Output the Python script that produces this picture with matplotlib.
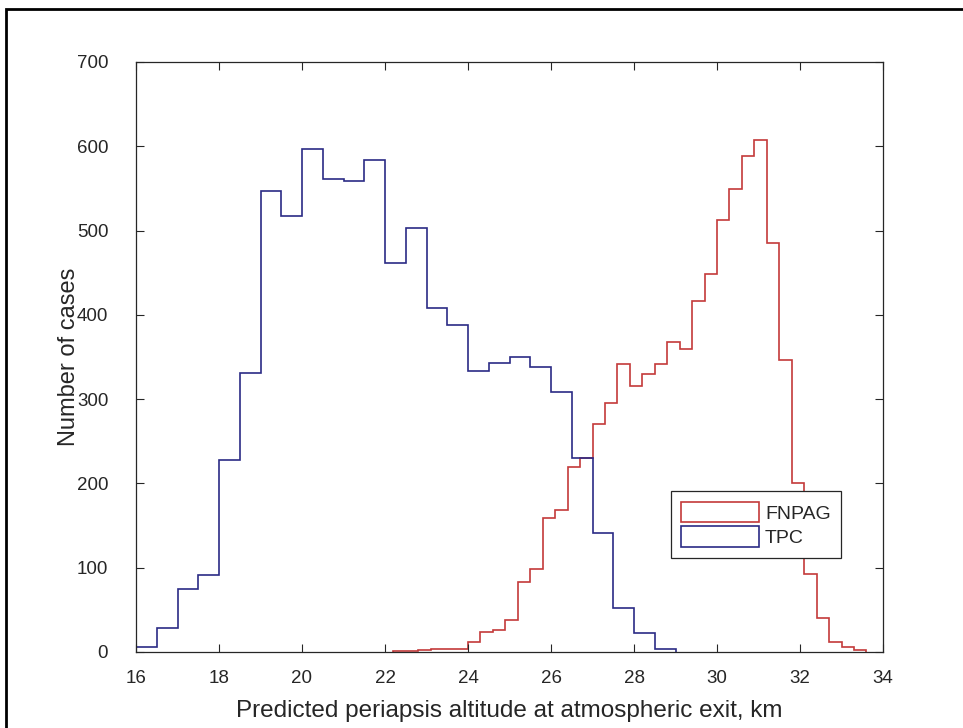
import numpy as np
import matplotlib.pyplot as plt
from matplotlib.patches import Rectangle, Patch

plt.rcParams['font.family'] = ['Liberation Sans', 'DejaVu Sans']

# ── Histogram counts ─────────────────────────────────────────
# TPC: 0.5 km bins starting at 16 km
tpc_start, tpc_width = 16.0, 0.5
tpc_counts = [6, 28, 75, 91, 228, 331, 547, 517, 597, 561, 559, 584, 462,
              503, 408, 388, 333, 343, 350, 338, 308, 230, 141, 52, 22, 3]

# FNPAG: 0.3 km bins starting at 22.2 km
fnpag_start, fnpag_width = 22.2, 0.3
fnpag_counts = [1, 1, 2, 3, 3, 4, 12, 24, 26, 38, 83, 99, 159, 168, 219, 230,
                270, 295, 342, 316, 330, 342, 368, 360, 416, 449, 512, 549,
                588, 607, 485, 346, 201, 93, 40, 12, 6, 2]

x_ticks = np.arange(16, 35, 2)
y_ticks = np.arange(0, 701, 100)

tpc_edges = tpc_start + tpc_width * np.arange(len(tpc_counts) + 1)
fnpag_edges = fnpag_start + fnpag_width * np.arange(len(fnpag_counts) + 1)

txt = "#262626"
c_fnpag = "#c43a3a"
c_tpc = "#2b2b85"

fig = plt.figure(figsize=(9.63, 7.28), dpi=100)
ax = fig.add_axes([136 / 963, 1 - 652 / 728, 747 / 963, 590 / 728])

ax.stairs(fnpag_counts, fnpag_edges, color=c_fnpag, linewidth=1.2)
ax.stairs(tpc_counts, tpc_edges, color=c_tpc, linewidth=1.2)

ax.set_xlim(16, 34)
ax.set_ylim(0, 700)
ax.set_xticks(x_ticks)
ax.set_yticks(y_ticks)
ax.tick_params(direction="in", length=6, width=0.8, top=True, right=True,
               labeltop=False, labelright=False, labelsize=13.5, colors=txt)
ax.tick_params(axis="x", pad=13)
ax.tick_params(axis="y", pad=20)
for s in ax.spines.values():
    s.set_color(txt)
    s.set_linewidth(0.9)

ax.set_xlabel("Predicted periapsis altitude at atmospheric exit, km", fontsize=17.5,
              color=txt, labelpad=9)
ax.set_ylabel("Number of cases", fontsize=17, color=txt, labelpad=-2)

# legend uses box-shaped keys, like histogram patches
handles = [Patch(facecolor="white", edgecolor=c_fnpag, linewidth=1.2, label="FNPAG"),
           Patch(facecolor="white", edgecolor=c_tpc, linewidth=1.2, label="TPC")]
leg = ax.legend(handles=handles, loc="upper left", bbox_to_anchor=(0.7158, 0.2729),
                borderaxespad=0, fontsize=14, handlelength=4.0, handleheight=1.25,
                fancybox=False, framealpha=1, edgecolor=txt, borderpad=0.55,
                labelspacing=0.2, handletextpad=0.3)
leg.get_frame().set_linewidth(0.9)
for t in leg.get_texts():
    t.set_color(txt)

# outer figure frame
fig.patches.append(Rectangle((6 / 963, -0.1), 1.2, 1.1 - 9 / 728,
                             transform=fig.transFigure, fill=False,
                             edgecolor="black", linewidth=2))

plt.savefig("out.png", dpi=100)
